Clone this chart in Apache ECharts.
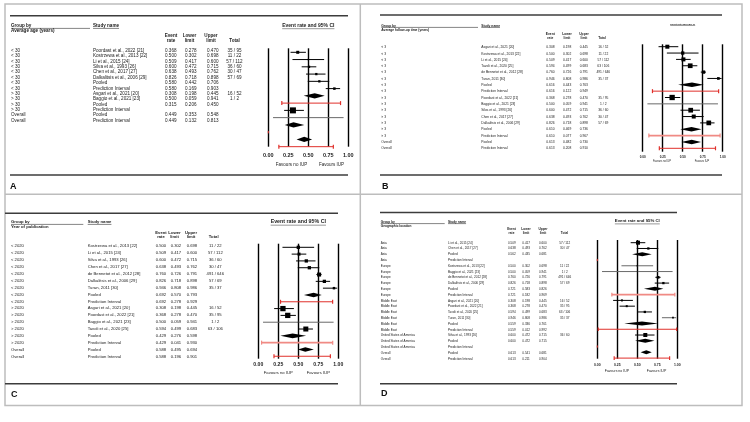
<!DOCTYPE html>
<html><head><meta charset="utf-8">
<script src="https://cdn.jsdelivr.net/npm/echarts@6/dist/echarts.min.js"></script>
<style>html,body{margin:0;padding:0;background:#fff}#c{width:750px;height:422px}</style>
</head><body><div id="c"></div>
<script>
// ================= DATA =================
const tickLabels = ['0.00','0.25','0.50','0.75','1.00'];
const headerTop = ['Event','Lower','Upper',''];
const headerBottom = ['rate','limit','limit','Total'];
const favourLabels = ['Favours no IUP','Favours IUP'];
const plotTitle = 'Event rate and 95% CI';

// Panel A – average age
const groupTitleA = 'Average age (years)';
const groupA = ['< 30','< 30','< 30','< 30','< 30','< 30','< 30','< 30','> 30','> 30','> 30','> 30','Overall','Overall'];
const studyA = ['Poordast et al., 2022 [21]','Kostrzewa et al., 2013 [22]','Li et al., 2015 [24]','Silva et al., 1993 [26]','Chen et al., 2017 [27]','Dalkalitsis et al., 2006 [29]','Pooled','Prediction Interval','Asgari et al., 2021 [20]','Baggio et al., 2021 [23]','Pooled','Prediction Interval','Pooled','Prediction Interval'];
const rateA  = [0.368,0.500,0.509,0.600,0.638,0.826,0.580,0.580,0.308,0.500,0.315,null,0.449,0.449];
const lowerA = [0.278,0.302,0.417,0.472,0.493,0.718,0.442,0.169,0.198,0.059,0.206,null,0.353,0.132];
const upperA = [0.470,0.698,0.600,0.715,0.762,0.898,0.706,0.903,0.445,0.941,0.450,null,0.548,0.813];
const totalA = ['35 / 95','11 / 22','57 / 112','36 / 60','30 / 47','57 / 69','','','16 / 52','1 / 2','','','',''];

// Panel B – follow-up time
const groupTitleB = 'Average follow-up time (years)';
const groupB = ['< 3','< 3','< 3','< 3','< 3','< 3','< 3','< 3','> 3','> 3','> 3','> 3','> 3','> 3','> 3','Overall','Overall'];
const studyB = ['Asgari et al., 2021 [20]','Kostrzewa et al., 2013 [22]','Li et al., 2015 [24]','Tavoli et al., 2020 [25]','de Bennetot et al., 2012 [28]','Turan, 2011 [30]','Pooled','Prediction Interval','Poordast et al., 2022 [21]','Baggio et al., 2021 [23]','Silva et al., 1993 [26]','Chen et al., 2017 [27]','Dalkalitsis et al., 2006 [29]','Pooled','Prediction Interval','Pooled','Prediction Interval'];
const rateB  = [0.308,0.500,0.509,0.594,0.760,0.946,0.616,0.616,0.368,0.500,0.600,0.638,0.826,0.610,0.610,0.613,0.613];
const lowerB = [0.198,0.302,0.417,0.499,0.726,0.808,0.443,0.122,0.278,0.059,0.472,0.493,0.718,0.469,0.077,0.482,0.208];
const upperB = [0.445,0.698,0.600,0.683,0.791,0.986,0.763,0.949,0.470,0.941,0.715,0.762,0.898,0.736,0.967,0.730,0.910];
const totalB = ['16 / 52','11 / 22','57 / 112','63 / 106','491 / 646','35 / 37','','','35 / 95','1 / 2','36 / 60','30 / 47','57 / 69','','','',''];

// Panel C – year of publication
const groupTitleC = 'Year of publication';
const groupC = ['< 2020','< 2020','< 2020','< 2020','< 2020','< 2020','< 2020','< 2020','< 2020','> 2020','> 2020','> 2020','> 2020','> 2020','> 2020','Overall','Overall'];
const studyC = ['Kostrzewa et al., 2013 [22]','Li et al., 2015 [24]','Silva et al., 1993 [26]','Chen et al., 2017 [27]','de Bennetot et al., 2012 [28]','Dalkalitsis et al., 2006 [29]','Turan, 2011 [30]','Pooled','Prediction Interval','Asgari et al., 2021 [20]','Poordast et al., 2022 [21]','Baggio et al., 2021 [23]','Tavoli et al., 2020 [25]','Pooled','Prediction Interval','Pooled','Prediction Interval'];
const rateC  = [0.500,0.509,0.600,0.638,0.760,0.826,0.946,0.692,0.692,0.308,0.368,0.500,0.594,0.429,0.429,0.588,0.588];
const lowerC = [0.302,0.417,0.472,0.493,0.726,0.718,0.808,0.570,0.278,0.198,0.278,0.059,0.499,0.276,0.041,0.495,0.196];
const upperC = [0.698,0.600,0.715,0.762,0.791,0.898,0.986,0.793,0.929,0.445,0.470,0.941,0.683,0.598,0.930,0.694,0.901];
const totalC = ['11 / 22','57 / 112','36 / 60','30 / 47','491 / 646','57 / 69','35 / 37','','','16 / 52','35 / 95','1 / 2','63 / 106','','','',''];

// Panel D – geographic location
const groupTitleD = 'Geographic location';
const groupD = ['Asia','Asia','Asia','Asia','Europe','Europe','Europe','Europe','Europe','Europe','Middle East','Middle East','Middle East','Middle East','Middle East','Middle East','United States of America','United States of America','United States of America','Overall','Overall'];
const studyD = ['Li et al., 2015 [24]','Chen et al., 2017 [27]','Pooled','Prediction Interval','Kostrzewa et al., 2013 [22]','Baggio et al., 2021 [23]','de Bennetot et al., 2012 [28]','Dalkalitsis et al., 2006 [29]','Pooled','Prediction Interval','Asgari et al., 2021 [20]','Poordast et al., 2022 [21]','Tavoli et al., 2020 [25]','Turan, 2011 [30]','Pooled','Prediction Interval','Silva et al., 1993 [26]','Pooled','Prediction Interval','Pooled','Prediction Interval'];
const rateD  = [0.509,0.638,0.562,null,0.500,0.500,0.760,0.826,0.721,0.721,0.308,0.368,0.594,0.946,0.559,0.559,0.600,0.600,null,0.613,0.613];
const lowerD = [0.417,0.493,0.435,null,0.302,0.059,0.726,0.718,0.583,0.182,0.198,0.278,0.499,0.808,0.336,0.012,0.472,0.472,null,0.541,0.211];
const upperD = [0.600,0.762,0.681,null,0.698,0.941,0.791,0.898,0.826,0.969,0.445,0.470,0.683,0.986,0.761,0.992,0.715,0.715,null,0.681,0.904];
const totalD = ['57 / 112','30 / 47','','','11 / 22','1 / 2','491 / 646','57 / 69','','','16 / 52','35 / 95','63 / 106','35 / 37','','','36 / 60','','','',''];

// ================= STYLE / LAYOUT =================
const FONT = '"Liberation Sans", Arial, Helvetica, sans-serif';
const markSizeA = [3,1.5,2.3,2.3,2.3,2.5,0,0,6,1,0,0,0,0];
const markSizeB = [4,3.3,4,4.7,3.3,2.7,0,0,5.3,0.8,4.7,4,4.7,0,0,0,0];
const markSizeC = [3.3,3,3.3,3.3,4,3.3,2.5,0,0,5.3,5.3,1,5,0,0,0,0];
const markSizeD = [4,2.3,0,0,1.5,1,2.7,2.3,0,0,2,2,2.3,1.7,0,0,4,0,0,0,0];

const LAYOUT = {
  A: {rule:{x0:10,x1:348,y:15.7,y2:175}, tag:{x:10,y:187},
      hdr:{gx:11,gy:25.7,g2y:30.7,uly:28.4,gEnd:90,sx:93,h1:36,h2:41,font:4.6,cx:[171,189.5,211,234.5]},
      tbl:{first:50.7,step:5.37,font:4.6,cols:[165,185,207],totalC:234.5},
      plot:{x0:268.3,x1:348.3,top:48.3,bottom:146.7,first:52.3,step:7.26,tickY:155.3,tickFont:5.5,favY:164.3,favFont:4.5,favFrac:[0.29,0.79],titleY:25.7,titleFont:5,dh:2.6,cap:2},
      grey:['Baggio et al., 2021 [23]'], lightPI:[]},
  B: {rule:{x0:380,x1:722,y:15,y2:175}, tag:{x:382,y:187},
      hdr:{gx:381.3,gy:25.7,g2y:30,uly:27.4,gEnd:478,sx:481.3,h1:34.3,h2:38.3,font:3.3,cx:[550.3,567,584,602]},
      tbl:{first:47.3,step:6.32,font:3.3,cols:[546.3,563,579.7],totalC:603.3},
      plot:{x0:642.7,x1:722.7,top:44.3,bottom:151.7,first:46.7,step:6.35,tickY:156.7,tickFont:3.1,favY:161.7,favFont:2.6,favFrac:[0.24,0.74],titleY:24,titleFont:2.4,dh:2.3,cap:2},
      grey:['Baggio et al., 2021 [23]'], lightPI:[14]},
  C: {rule:{x0:5,x1:338,y:213.3,y2:383.7}, tag:{x:11,y:394.7},
      hdr:{gx:11,gy:222,g2y:227,uly:224.4,gEnd:83.3,sx:87.7,h1:232.7,h2:237.3,font:4.2,cx:[161,174.5,191,213.7]},
      tbl:{first:246,step:6.92,font:4.2,cols:[155.7,170.7,186.7],totalC:215.3},
      plot:{x0:258.3,x1:338.3,top:243.7,bottom:358.7,first:247.3,step:6.81,tickY:364.7,tickFont:5.1,favY:372.7,favFont:4.2,favFrac:[0.25,0.75],titleY:222,titleFont:5.3,dh:2.3,cap:2},
      grey:['Baggio et al., 2021 [23]'], lightPI:[14]},
  D: {rule:{x0:380,x1:677,y:212.5,y2:383.7}, tag:{x:381,y:393.7},
      hdr:{gx:380.7,gy:222,g2y:226,uly:223.6,gEnd:444.7,sx:448,h1:228.7,h2:233,font:3.2,cx:[511.5,526,543,564.5]},
      tbl:{first:242.7,step:5.8,font:3.1,cols:[508,522.3,539],totalC:564.7},
      plot:{x0:597.3,x1:677.3,top:240,bottom:358.7,first:242.7,step:5.77,tickY:365.3,tickFont:3.4,favY:371.3,favFont:3.5,favFrac:[0.245,0.74],titleY:221.3,titleFont:4.3,dh:2,cap:1.8},
      grey:['Baggio et al., 2021 [23]','Kostrzewa et al., 2013 [22]','Turan, 2011 [30]'], lightPI:[9]}
};

const panels = [
  {key:'A', gTitle:groupTitleA, group:groupA, study:studyA, rate:rateA, lower:lowerA, upper:upperA, total:totalA, size:markSizeA},
  {key:'B', gTitle:groupTitleB, group:groupB, study:studyB, rate:rateB, lower:lowerB, upper:upperB, total:totalB, size:markSizeB},
  {key:'C', gTitle:groupTitleC, group:groupC, study:studyC, rate:rateC, lower:lowerC, upper:upperC, total:totalC, size:markSizeC},
  {key:'D', gTitle:groupTitleD, group:groupD, study:studyD, rate:rateD, lower:lowerD, upper:upperD, total:totalD, size:markSizeD}
];

const mctx = document.createElement('canvas').getContext('2d');
function textW(t, size, bold){ mctx.font = (bold ? 'bold ' : '') + size + 'px ' + FONT; return mctx.measureText(t).width; }
function font(size, bold){ return (bold ? 'bold ' : '') + size + 'px ' + FONT; }
const TXT = '#222';
const RED = '#e0302b', PINK = '#f08a84';

const grid = [], xAxis = [], yAxis = [], series = [], graphic = [];

// panel borders
graphic.push({type:'rect', shape:{x:5,y:4,width:737,height:401.5}, style:{fill:'none', stroke:'#bdbdbd', lineWidth:1.5}, silent:true});
graphic.push({type:'line', shape:{x1:360.3,y1:4,x2:360.3,y2:405.5}, style:{stroke:'#bdbdbd', lineWidth:1.5}, silent:true});
graphic.push({type:'line', shape:{x1:5,y1:194.3,x2:742,y2:194.3}, style:{stroke:'#bdbdbd', lineWidth:1.5}, silent:true});

panels.forEach((P, p) => {
  const L = LAYOUT[P.key];
  const n = P.study.length;
  const T = L.tbl, H = L.hdr, PL = L.plot;

  // ---- table grid ----
  grid.push({left:H.gx, top:T.first, width:50, height:T.step*(n-1), containLabel:false});
  xAxis.push({gridIndex:2*p, type:'value', min:0, max:1, show:false});
  yAxis.push({gridIndex:2*p, type:'value', inverse:true, min:0, max:n-1, show:false});
  series.push({
    type:'custom', xAxisIndex:2*p, yAxisIndex:2*p, clip:false, silent:true, animation:false,
    data: P.study.map((s, i) => [0, i]),
    renderItem: (params, api) => {
      const i = params.dataIndex;
      const y = api.coord([0, api.value(1)])[1];
      const f = font(T.font, false);
      const ch = [];
      const add = (t, x, align) => { if (t !== '' && t != null) ch.push({type:'text', x:x, y:y, style:{text:t, font:f, fill:TXT, align:align, verticalAlign:'middle'}}); };
      add(P.group[i], H.gx, 'left');
      add(P.study[i], H.sx, 'left');
      [P.rate[i], P.lower[i], P.upper[i]].forEach((v, k) => { if (v != null) add(v.toFixed(3), T.cols[k], 'left'); });
      add(P.total[i], T.totalC, 'center');
      return {type:'group', children:ch};
    }
  });

  // ---- forest plot grid ----
  grid.push({left:PL.x0, top:PL.top, width:PL.x1-PL.x0, height:PL.bottom-PL.top, containLabel:false});
  xAxis.push({gridIndex:2*p+1, type:'value', min:0, max:1, interval:0.25,
    axisLine:{show:false}, axisTick:{show:false},
    splitLine:{show:true, lineStyle:{color:'#000', width:1.4}},
    axisLabel:{formatter:(v) => tickLabels[Math.round(v/0.25)], fontSize:PL.tickFont, fontWeight:'bold', fontFamily:FONT, color:TXT,
               margin: PL.tickY - PL.bottom - PL.tickFont/2, showMinLabel:true, showMaxLabel:true}});
  yAxis.push({gridIndex:2*p+1, type:'value', inverse:true, show:false,
    min:(PL.top-PL.first)/PL.step, max:(PL.bottom-PL.first)/PL.step});
  series.push({
    type:'custom', xAxisIndex:2*p+1, yAxisIndex:2*p+1, clip:false, silent:true, animation:false, z:5,
    data: P.study.map((s, i) => [P.rate[i] == null ? 0 : P.rate[i], i]),
    renderItem: (params, api) => {
      const i = params.dataIndex;
      const row = api.value(1);
      const X = v => api.coord([v, row])[0];
      const y = api.coord([0, row])[1];
      const name = P.study[i];
      const ch = [];
      if (name === 'Prediction Interval') {
        const light = L.lightPI.indexOf(i) >= 0;
        const col = light ? PINK : RED, lw = light ? 1.8 : 1;
        if (P.lower[i] == null) {
          ch.push({type:'line', shape:{x1:X(0), y1:y-PL.cap*0.6, x2:X(0), y2:y+PL.cap*0.6}, style:{stroke:RED, lineWidth:1}});
        } else {
          const a = X(P.lower[i]), b = X(P.upper[i]);
          ch.push({type:'line', shape:{x1:a, y1:y, x2:b, y2:y}, style:{stroke:col, lineWidth:lw}});
          ch.push({type:'line', shape:{x1:a, y1:y-PL.cap, x2:a, y2:y+PL.cap}, style:{stroke:col, lineWidth:1.2}});
          ch.push({type:'line', shape:{x1:b, y1:y-PL.cap, x2:b, y2:y+PL.cap}, style:{stroke:col, lineWidth:1.2}});
        }
      } else if (name === 'Pooled') {
        const a = X(P.lower[i]), b = X(P.upper[i]), m = X(P.rate[i]);
        ch.push({type:'polygon', shape:{points:[[a,y],[m,y-PL.dh],[b,y],[m,y+PL.dh]]}, style:{fill:'#000'}});
      } else {
        const a = X(P.lower[i]), b = X(P.upper[i]), m = X(P.rate[i]);
        const grey = L.grey.indexOf(name) >= 0;
        ch.push({type:'line', shape:{x1:a, y1:y, x2:b, y2:y}, style:{stroke: grey ? '#6a6a6a' : '#000', lineWidth:1}});
        const s = P.size[i];
        if (s > 0) ch.push({type:'rect', shape:{x:m-s/2, y:y-s/2, width:s, height:s}, style:{fill:'#000'}});
      }
      return {type:'group', children:ch};
    }
  });

  // ---- decorations / header text ----
  const R = L.rule;
  graphic.push({type:'line', shape:{x1:R.x0,y1:R.y,x2:R.x1,y2:R.y}, style:{stroke:'#3c3c3c', lineWidth:1.6}, silent:true});
  graphic.push({type:'line', shape:{x1:R.x0,y1:R.y2,x2:R.x1,y2:R.y2}, style:{stroke:'#3c3c3c', lineWidth:1.6}, silent:true});
  graphic.push({type:'text', x:L.tag.x, y:L.tag.y, style:{text:P.key, font:font(9, true), fill:'#111', align:'left', verticalAlign:'middle'}, silent:true});

  const hf = font(H.font, true);
  graphic.push({type:'text', x:H.gx, y:H.gy, style:{text:'Group by', font:hf, fill:TXT, align:'left', verticalAlign:'middle'}});
  graphic.push({type:'text', x:H.gx, y:H.g2y, style:{text:P.gTitle, font:hf, fill:TXT, align:'left', verticalAlign:'middle'}});
  graphic.push({type:'line', shape:{x1:H.gx,y1:H.uly,x2:H.gEnd,y2:H.uly}, style:{stroke:'#333', lineWidth:0.6}});
  graphic.push({type:'text', x:H.sx, y:H.gy, style:{text:'Study name', font:hf, fill:TXT, align:'left', verticalAlign:'middle'}});
  graphic.push({type:'line', shape:{x1:H.sx,y1:H.uly,x2:H.sx+textW('Study name', H.font, true),y2:H.uly}, style:{stroke:'#333', lineWidth:0.6}});
  headerTop.forEach((t, k) => {
    if (t) graphic.push({type:'text', x:H.cx[k], y:H.h1, style:{text:t, font:hf, fill:TXT, align:'center', verticalAlign:'middle'}});
    graphic.push({type:'text', x:H.cx[k], y:H.h2, style:{text:headerBottom[k], font:hf, fill:TXT, align:'center', verticalAlign:'middle'}});
  });

  // plot title & favours labels
  const cx = (PL.x0 + PL.x1) / 2;
  const tw = textW(plotTitle, PL.titleFont, true);
  graphic.push({type:'text', x:cx, y:PL.titleY, style:{text:plotTitle, font:font(PL.titleFont, true), fill:TXT, align:'center', verticalAlign:'middle'}});
  graphic.push({type:'line', shape:{x1:cx-tw/2,y1:PL.titleY+PL.titleFont*0.6,x2:cx+tw/2,y2:PL.titleY+PL.titleFont*0.6}, style:{stroke:'#333', lineWidth:0.5}});
  favourLabels.forEach((t, k) => {
    graphic.push({type:'text', x:PL.x0 + PL.favFrac[k]*(PL.x1-PL.x0), y:PL.favY, style:{text:t, font:font(PL.favFont, false), fill:TXT, align:'center', verticalAlign:'middle'}});
  });
});

const chart = echarts.init(document.getElementById('c'), null, {renderer:'canvas', width:750, height:422});
chart.setOption({animation:false, backgroundColor:'#fff', grid, xAxis, yAxis, series, graphic});
</script></body></html>
